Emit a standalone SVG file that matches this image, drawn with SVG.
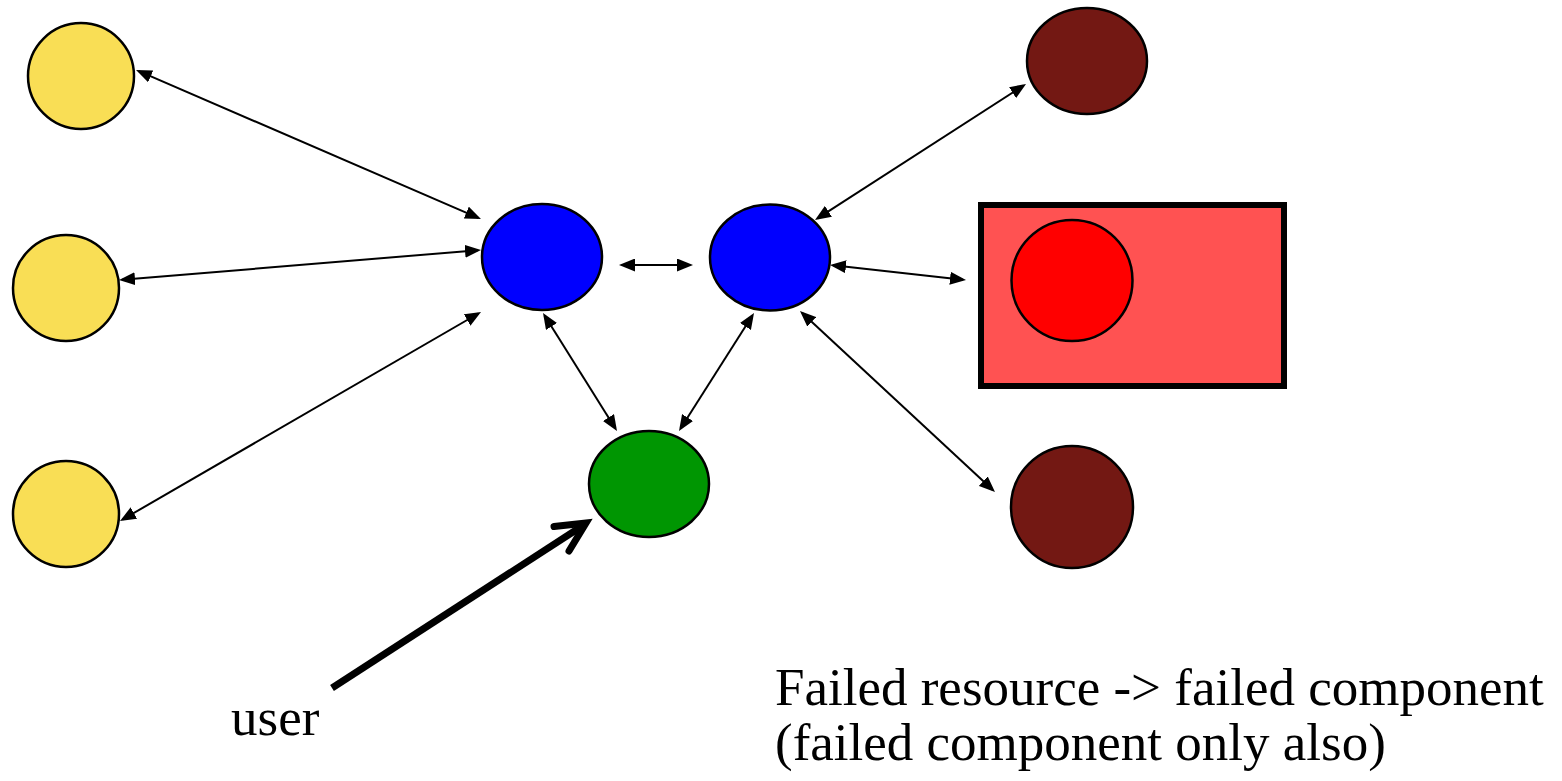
<svg xmlns="http://www.w3.org/2000/svg" width="1562" height="781" viewBox="0 0 1562 781">
  <style>
    .node { stroke: #000; stroke-width: 2.5; }
    .yellow { fill: #F9DE55; }
    .blue { fill: #0000FF; }
    .green { fill: #009602; }
    .brown { fill: #731813; }
    .red { fill: #FF0000; }
    .link { fill: none; stroke: #000; stroke-width: 2; marker-start: url(#head); marker-end: url(#head); }
    .label { font-family: "Liberation Serif", "Times New Roman", serif; font-size: 53px; fill: #000; }
  </style>
  <defs>
    <marker id="head" markerUnits="userSpaceOnUse" markerWidth="16" markerHeight="13" refX="13" refY="6.5" orient="auto-start-reverse">
      <path d="M0,0 L16,6.5 L0,13 z" fill="#000"/>
    </marker>
  </defs>

  <rect width="1562" height="781" fill="#fff"/>

  <!-- failed resource container -->
  <g id="failed-resource">
    <rect x="981" y="205" width="303" height="181" fill="#FF5252" stroke="#000" stroke-width="6"/>
  </g>

  <!-- nodes -->
  <g id="yellow-top"><circle class="node yellow" cx="81" cy="76" r="53"/></g>
  <g id="yellow-mid"><circle class="node yellow" cx="66" cy="288" r="53"/></g>
  <g id="yellow-bottom"><circle class="node yellow" cx="66" cy="514" r="53"/></g>
  <g id="blue-left"><ellipse class="node blue" cx="542" cy="257" rx="60" ry="53"/></g>
  <g id="blue-right"><ellipse class="node blue" cx="770" cy="257.5" rx="60" ry="53"/></g>
  <g id="green"><ellipse class="node green" cx="649" cy="484" rx="60" ry="53"/></g>
  <g id="brown-top"><ellipse class="node brown" cx="1087" cy="61" rx="60" ry="53"/></g>
  <g id="brown-bottom"><circle class="node brown" cx="1072" cy="507" r="61"/></g>
  <g id="failed-component"><circle class="node red" cx="1072" cy="280.5" r="60.5"/></g>

  <!-- connectors -->
  <g id="connectors">
    <line class="link" x1="138.8" y1="71.2" x2="478.2" y2="217.8"/>
    <line class="link" x1="122" y1="279.8" x2="478" y2="250.2"/>
    <line class="link" x1="122.6" y1="519.5" x2="478.4" y2="313.5"/>
    <line class="link" x1="622" y1="265" x2="690" y2="265"/>
    <line class="link" x1="544.6" y1="315.5" x2="615.4" y2="428.5"/>
    <line class="link" x1="752.4" y1="315.5" x2="680.6" y2="428.5"/>
    <line class="link" x1="817.5" y1="218.4" x2="1023.5" y2="85.6"/>
    <line class="link" x1="833" y1="265.3" x2="963" y2="279.7"/>
    <line class="link" x1="802.2" y1="313" x2="992.8" y2="490"/>

    <!-- user entry arrow -->
    <g id="user-arrow" fill="none" stroke="#000" stroke-width="7">
      <line x1="332" y1="688" x2="583" y2="525.5"/>
      <path d="M554,526.5 L586,523 L569,551" stroke-linecap="round" stroke-linejoin="miter"/>
    </g>
  </g>

  <!-- labels -->
  <text class="label" x="231" y="735">user</text>
  <text class="label" x="775" y="705">Failed resource -&gt; failed component</text>
  <text class="label" x="775" y="760">(failed component only also)</text>
</svg>
